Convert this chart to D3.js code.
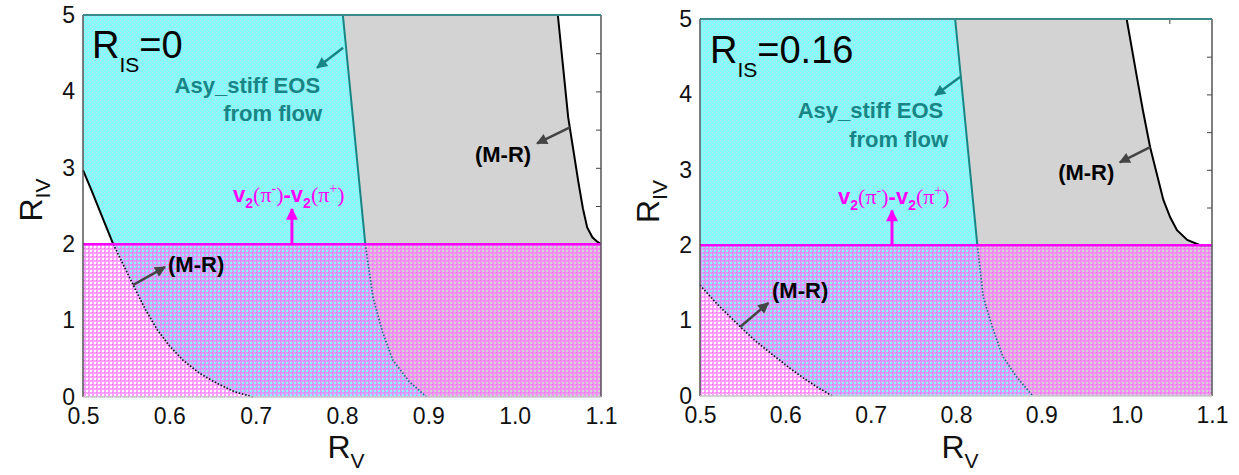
<!DOCTYPE html>
<html>
<head>
<meta charset="utf-8">
<script src="https://cdn.jsdelivr.net/npm/d3@7"></script>
<style>
  body { margin: 0; background: #fff; }
  svg { display: block; }
  text { font-family: "Liberation Sans", Arial, sans-serif; }
</style>
</head>
<body>
<div id="chart"></div>
<script>
// axis ticks
const xTicks = [0.5, 0.6, 0.7, 0.8, 0.9, 1.0, 1.1];
const yTicks = [0, 1, 2, 3, 4, 5];
const topMinorTicks = [0.55, 0.6, 0.65, 0.7, 0.75, 0.8, 0.85, 0.9, 0.95, 1.0, 1.05];
const rightMinorTicks = [0.5, 1, 1.5, 2, 2.5, 3, 3.5, 4, 4.5];
const risLabels = ["0", "0.16"];
const v2Limit = 2;   // R_IV bound from v2(pi-)-v2(pi+)

// R_IS = 0 : lower M-R bound, flow (Asy_stiff) bound, upper M-R bound   [R_V, R_IV]
const mrLow0 = [[0.5, 2.97], [0.51, 2.70], [0.52, 2.42], [0.535, 2.0], [0.558, 1.47], [0.572, 1.15],
  [0.586, 0.88], [0.60, 0.67], [0.616, 0.48], [0.635, 0.31], [0.655, 0.18], [0.675, 0.07], [0.697, 0]];
const flow0 = [[0.801, 5], [0.827, 2.0], [0.836, 1.3], [0.847, 0.85], [0.859, 0.48], [0.878, 0.2], [0.898, 0]];
const mrHigh0 = [[1.050, 5], [1.056, 4.33], [1.062, 3.66], [1.068, 3.23], [1.074, 2.80], [1.079, 2.47],
  [1.084, 2.22], [1.090, 2.09], [1.096, 2.03], [1.1, 2.0]];

// R_IS = 0.16
const mrLow16 = [[0.5, 1.47], [0.52, 1.22], [0.547, 0.92], [0.566, 0.72], [0.586, 0.54], [0.604, 0.38],
  [0.621, 0.24], [0.637, 0.12], [0.655, 0]];
const flow16 = [[0.799, 5], [0.825, 2.0], [0.832, 1.31], [0.843, 0.9], [0.855, 0.52], [0.872, 0.24], [0.890, 0]];
const mrHigh16 = [[1.0, 5], [1.012, 4.23], [1.019, 3.79], [1.0275, 3.3], [1.043, 2.6], [1.051, 2.37],
  [1.059, 2.2], [1.071, 2.07], [1.086, 2.0], [1.1, 2.0]];

const teal = "#178585";
const magenta = "#ff00ff";

const svg = d3.select("#chart").append("svg")
    .attr("width", 1239)
    .attr("height", 475);

const defs = svg.append("defs");

// fine cyan hatch
const cp = defs.append("pattern").attr("id", "cyanPat")
    .attr("patternUnits", "userSpaceOnUse").attr("width", 4).attr("height", 4);
cp.append("rect").attr("width", 4).attr("height", 4).attr("fill", "#84fafa");
cp.append("rect").attr("x", 0).attr("y", 0).attr("width", 1).attr("height", 1).attr("fill", "#c4e0e2");
cp.append("rect").attr("x", 2).attr("y", 2).attr("width", 1).attr("height", 1).attr("fill", "#c4e0e2");

// magenta grid (transparent holes)
const mp = defs.append("pattern").attr("id", "magPat")
    .attr("patternUnits", "userSpaceOnUse").attr("width", 4).attr("height", 4);
mp.append("path").attr("d", "M0,0H4V2H2V4H0Z").attr("fill", "#ff70ff").attr("fill-opacity", 0.66);
mp.append("rect").attr("width", 1).attr("height", 1).attr("fill", "#ff40ff").attr("fill-opacity", 0.5);

function marker(id, color, w, h) {
    defs.append("marker").attr("id", id)
        .attr("viewBox", "0 0 10 10")
        .attr("refX", 9).attr("refY", 5)
        .attr("markerUnits", "userSpaceOnUse")
        .attr("markerWidth", w).attr("markerHeight", h)
        .attr("orient", "auto")
        .append("path").attr("d", "M0,0L10,5L0,10Z").attr("fill", color);
}
marker("arrGray", "#444", 16, 11);
marker("arrTeal", teal, 16, 11);
marker("arrMag", magenta, 15, 12);

const panels = [
    { ris: risLabels[0], mrLow: mrLow0, flow: flow0, mrHigh: mrHigh0,
      left: 83, right: 601, top: 15, bottom: 397,
      title: [0.5104, 4.44],
      asy: [0.7746, 3.98, 0.777, 3.61], asyArrow: [[0.8013, 4.57], [0.7711, 4.31]],
      v2: [0.6738, 2.55], v2Arrow: 0.742,
      mrA: [0.5985, 1.636], mrAArrow: [[0.558, 1.466], [0.595, 1.70]],
      mrB: [0.954, 3.076], mrBArrow: [[1.064, 3.53], [1.026, 3.32]] },
    { ris: risLabels[1], mrLow: mrLow16, flow: flow16, mrHigh: mrHigh16,
      left: 700, right: 1212, top: 19, bottom: 396,
      title: [0.5117, 4.416],
      asy: [0.785, 3.687, 0.7907, 3.30], asyArrow: [[0.8048, 4.23], [0.7755, 3.99]],
      v2: [0.6618, 2.546], v2Arrow: 0.725,
      mrA: [0.5844, 1.30], mrAArrow: [[0.547, 0.915], [0.580, 1.233]],
      mrB: [0.9197, 2.865], mrBArrow: [[1.0275, 3.30], [0.992, 3.10]] }
];

panels.forEach(drawPanel);

function drawPanel(p) {
    const x = d3.scaleLinear().domain([0.5, 1.1]).range([p.left, p.right]);
    const y = d3.scaleLinear().domain([0, 5]).range([p.bottom, p.top]);
    const g = svg.append("g");
    const line = d3.line().x(d => x(d[0])).y(d => y(d[1]));

    // inward minor ticks on top and right (covered by the fills)
    g.append("g").attr("transform", `translate(0,${p.top})`)
        .call(d3.axisBottom(x).tickValues(topMinorTicks).tickSize(5).tickFormat(""))
        .call(a => a.select(".domain").remove())
        .selectAll("line").attr("stroke", "#444");
    g.append("g").attr("transform", `translate(${p.right},0)`)
        .call(d3.axisLeft(y).tickValues(rightMinorTicks).tickSize(5).tickFormat(""))
        .call(a => a.select(".domain").remove())
        .selectAll("line").attr("stroke", "#444");

    // allowed regions
    g.append("path")
        .attr("d", line([[0.5, 5], ...p.flow, ...p.mrLow.slice().reverse()]) + "Z")
        .attr("fill", "url(#cyanPat)");
    g.append("path")
        .attr("d", line([...p.flow, [1.1, 0], ...p.mrHigh.slice().reverse()]) + "Z")
        .attr("fill", "#d3d3d3");
    g.append("rect")
        .attr("x", x(0.5)).attr("y", y(v2Limit))
        .attr("width", x(1.1) - x(0.5)).attr("height", y(0) - y(v2Limit))
        .attr("fill", "url(#magPat)");

    const above = c => c.filter(d => d[1] >= v2Limit);
    const below = c => c.filter(d => d[1] <= v2Limit);

    g.append("path").attr("d", line(above(p.flow))).attr("fill", "none")
        .attr("stroke", teal).attr("stroke-width", 2);
    g.append("path").attr("d", line(below(p.flow))).attr("fill", "none")
        .attr("stroke", "#1f6f80").attr("stroke-width", 1.7).attr("stroke-dasharray", "1.5,1.8");
    if (above(p.mrLow).length > 1) {
        g.append("path").attr("d", line(above(p.mrLow))).attr("fill", "none")
            .attr("stroke", "#000").attr("stroke-width", 2);
    }
    g.append("path").attr("d", line(below(p.mrLow))).attr("fill", "none")
        .attr("stroke", "#111").attr("stroke-width", 1.7).attr("stroke-dasharray", "1.5,1.8");
    g.append("path").attr("d", line(p.mrHigh)).attr("fill", "none")
        .attr("stroke", "#000").attr("stroke-width", 2);

    // v2 limit
    g.append("line")
        .attr("x1", x(0.5)).attr("x2", x(1.1))
        .attr("y1", y(v2Limit)).attr("y2", y(v2Limit))
        .attr("stroke", magenta).attr("stroke-width", 2.5);

    // frame
    g.append("line").attr("x1", x(0.5)).attr("x2", x(0.5)).attr("y1", y(0)).attr("y2", y(5))
        .attr("stroke", "#555").attr("stroke-width", 1.5);
    g.append("line").attr("x1", x(1.1)).attr("x2", x(1.1)).attr("y1", y(0)).attr("y2", y(5))
        .attr("stroke", "#555").attr("stroke-width", 1.5);
    g.append("line").attr("x1", x(0.5)).attr("x2", x(1.1)).attr("y1", y(0)).attr("y2", y(0))
        .attr("stroke", "#c8c8c8").attr("stroke-width", 1.5);
    g.append("line").attr("x1", x(0.5)).attr("x2", x(1.1)).attr("y1", y(5)).attr("y2", y(5))
        .attr("stroke", "#3a8a8a").attr("stroke-width", 2);

    // tick labels
    g.append("g").attr("transform", `translate(0,${p.bottom})`)
        .call(d3.axisBottom(x).tickValues(xTicks).tickSize(0).tickPadding(11).tickFormat(d3.format(".1f")))
        .call(a => a.select(".domain").remove())
        .selectAll("text").attr("font-size", 23).attr("fill", "#111")
        .attr("font-family", "Liberation Sans, Arial, sans-serif");
    g.append("g").attr("transform", `translate(${p.left},0)`)
        .call(d3.axisLeft(y).tickValues(yTicks).tickSize(0).tickPadding(8).tickFormat(d3.format("d")))
        .call(a => a.select(".domain").remove())
        .selectAll("text").attr("font-size", 23).attr("fill", "#111")
        .attr("font-family", "Liberation Sans, Arial, sans-serif");

    // axis titles
    const xt = g.append("text").attr("x", (p.left + p.right) / 2 + 4).attr("y", 458)
        .attr("text-anchor", "middle").attr("font-size", 32).attr("fill", "#111");
    xt.append("tspan").text("R");
    xt.append("tspan").attr("font-size", 21).attr("dy", 10).text("V");

    const yt = g.append("text")
        .attr("transform", `translate(${p.left - 41},${(p.top + p.bottom) / 2 - 6}) rotate(-90)`)
        .attr("text-anchor", "middle").attr("font-size", 32).attr("fill", "#111");
    yt.append("tspan").text("R");
    yt.append("tspan").attr("font-size", 21).attr("dy", 8).text("IV");

    // R_IS label
    const tt = g.append("text").attr("x", x(p.title[0])).attr("y", y(p.title[1]))
        .attr("font-size", 38).attr("fill", "#000");
    tt.append("tspan").text("R");
    tt.append("tspan").attr("font-size", 21).attr("dy", 14).text("IS");
    tt.append("tspan").attr("dy", -14).text("=" + p.ris);

    // Asy_stiff annotation
    g.append("text").attr("x", x(p.asy[0])).attr("y", y(p.asy[1]))
        .attr("text-anchor", "end").attr("font-size", 22).attr("font-weight", "bold")
        .attr("fill", teal).text("Asy_stiff EOS");
    g.append("text").attr("x", x(p.asy[2])).attr("y", y(p.asy[3]))
        .attr("text-anchor", "end").attr("font-size", 22).attr("font-weight", "bold")
        .attr("fill", teal).text("from flow");
    arrow(g, x, y, p.asyArrow, teal, "arrTeal", 2.5);

    // v2 annotation
    const vt = g.append("text").attr("x", x(p.v2[0])).attr("y", y(p.v2[1]))
        .attr("font-size", 22).attr("fill", magenta);
    const serif = "Liberation Serif, DejaVu Serif, serif";
    [["v", 0, true], ["2", 6, true], ["(", -6, false], ["\u03c0", 0, false], ["-", -9, false], [")", 9, false],
     ["-", 0, true], ["v", 0, true], ["2", 6, true], ["(", -6, false], ["\u03c0", 0, false], ["+", -9, false], [")", 9, false]]
        .forEach(([t, dy, bold]) => {
            const s = vt.append("tspan").attr("dy", dy).text(t);
            if (bold) s.attr("font-weight", "bold");
            else s.attr("font-family", serif);
            if (t === "2" || ((t === "-" || t === "+") && !bold)) s.attr("font-size", 14);
        });
    g.append("line")
        .attr("x1", x(p.v2Arrow)).attr("x2", x(p.v2Arrow))
        .attr("y1", y(v2Limit)).attr("y2", y(2.46))
        .attr("stroke", magenta).attr("stroke-width", 3)
        .attr("marker-end", "url(#arrMag)");

    // M-R annotations
    g.append("text").attr("x", x(p.mrA[0])).attr("y", y(p.mrA[1]))
        .attr("font-size", 22).attr("font-weight", "bold").attr("fill", "#000").text("(M-R)");
    arrow(g, x, y, p.mrAArrow, "#444", "arrGray", 2.5);
    g.append("text").attr("x", x(p.mrB[0])).attr("y", y(p.mrB[1]))
        .attr("font-size", 22).attr("font-weight", "bold").attr("fill", "#000").text("(M-R)");
    arrow(g, x, y, p.mrBArrow, "#444", "arrGray", 2.5);
}

function arrow(g, x, y, pts, color, mk, w) {
    g.append("line")
        .attr("x1", x(pts[0][0])).attr("y1", y(pts[0][1]))
        .attr("x2", x(pts[1][0])).attr("y2", y(pts[1][1]))
        .attr("stroke", color).attr("stroke-width", w)
        .attr("marker-end", `url(#${mk})`);
}
</script>
</body>
</html>
